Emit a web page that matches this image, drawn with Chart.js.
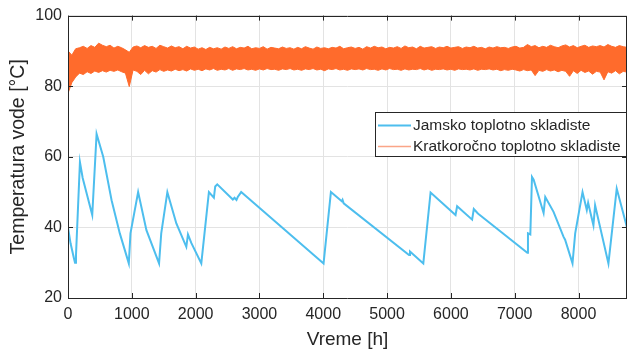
<!DOCTYPE html>
<html>
<head>
<meta charset="utf-8">
<script src="https://cdn.jsdelivr.net/npm/chart.js@4/dist/chart.umd.min.js"></script>
<style>
  html, body { margin: 0; padding: 0; background: #fff; }
  #wrap { width: 627px; height: 352px; position: relative; }
</style>
</head>
<body>
<div id="wrap"><canvas id="temperature"></canvas></div>
<script>
// Jamsko toplotno skladiste (sat, temperatura)
const jamskoSati = [0, 40, 90, 110, 125, 187, 230, 380, 448, 552, 683, 812, 953, 979, 1099, 1229, 1427, 1461, 1557, 1698, 1854, 1880, 1932, 2089, 2208, 2286, 2307, 2339, 2583, 2610, 2640, 2660, 2714, 4005, 4120, 4290, 4302, 4320, 5344, 5359, 5568, 5682, 6073, 6098, 6333, 6359, 6420, 6438, 7198, 7208, 7245, 7271, 7297, 7453, 7479, 7609, 7766, 7790, 7906, 7948, 8063, 8130, 8151, 8188, 8234, 8260, 8469, 8599, 8760];
const jamskoTemp = [40, 35.5, 31.5, 30, 32, 58.5, 54, 43.5, 66.5, 60, 47.7, 38.3, 29.8, 38.3, 50, 39.2, 29.8, 38.3, 50, 41.1, 34.5, 38, 35.6, 29.8, 50, 48.4, 51.6, 52.2, 47.9, 48.4, 47.8, 48.6, 50, 29.8, 50, 47.4, 47.8, 46.8, 32.2, 33.2, 29.8, 49.9, 43.5, 46, 42.2, 45.2, 44, 43.7, 32.8, 38.3, 38, 54.3, 53.5, 44.1, 48.6, 44.4, 37.3, 36.5, 29.8, 38.3, 50, 44.9, 47, 44.1, 40.6, 46.3, 29.8, 51, 40];

// Kratkorocno skladiste: gornja i donja granica signala, na svakih 60 h
const kratkoKorak = 60;
const kratkoGore = [
  90.0, 88.8, 90.6, 90.9, 91.3, 90.7, 91.5, 91.0, 92.2, 91.6,
  91.2, 91.6, 90.8, 91.3, 90.9, 90.3, 89.6, 91.1, 91.4, 90.9,
  91.5, 91.0, 91.3, 90.7, 91.6, 91.2, 90.8, 91.4, 90.9, 91.2,
  90.6, 91.3, 90.8, 91.1, 90.5, 90.9, 90.4, 91.0, 90.6, 90.9,
  90.5, 91.1, 90.7, 91.2, 90.6, 91.0, 90.8, 91.3, 90.6, 90.9,
  90.7, 91.2, 90.5, 91.0, 90.8, 90.6, 91.1, 90.7, 90.9, 90.5,
  91.0, 90.6, 91.2, 90.8, 90.5, 91.1, 90.7, 90.9, 90.6, 91.0,
  90.8, 91.3, 90.6, 90.9, 91.1, 90.7, 91.0, 90.5, 91.2, 90.8,
  91.3, 90.9, 91.1, 90.6, 91.0, 90.8, 91.2, 90.7, 91.4, 90.9,
  91.1, 90.6, 91.3, 90.8, 91.0, 91.2, 90.7, 91.1, 90.9, 91.3,
  90.8, 91.0, 91.2, 90.7, 91.1, 90.9, 91.3, 90.8, 91.0, 90.6,
  91.1, 90.8, 91.2, 90.9, 91.0, 90.7, 91.1, 91.3, 90.8, 91.0,
  91.8, 91.2, 91.5, 90.9, 91.3, 91.0, 91.6, 91.2, 90.9, 91.4,
  91.7, 91.1, 91.5, 90.9, 91.3, 91.6, 91.0, 91.4, 91.2, 91.5,
  91.1, 91.8, 91.3, 91.0, 91.5, 91.2, 91.0
];
const kratkoDole = [
  78.0, 81.0, 82.6, 83.7, 83.3, 84.1, 83.6, 84.3, 83.9, 84.4,
  84.0, 84.5, 84.2, 84.6, 84.1, 83.7, 79.9, 84.6, 84.2, 83.3,
  84.5, 83.5, 84.4, 84.0, 84.7, 84.2, 84.6, 84.3, 84.8, 84.4,
  84.7, 84.3, 84.9, 84.5, 84.8, 84.4, 84.9, 84.6, 85.0, 84.5,
  84.8, 84.6, 85.0, 84.5, 84.9, 84.7, 85.0, 84.6, 84.8, 84.5,
  84.9, 84.6, 85.0, 84.7, 84.8, 84.5, 84.9, 84.7, 85.0, 84.6,
  84.8, 84.5, 84.9, 84.7, 85.0, 84.6, 84.8, 84.4, 84.9, 84.7,
  85.0, 84.6, 84.8, 84.5, 84.9, 84.7, 84.9, 84.6, 85.0, 84.7,
  84.8, 84.5, 84.9, 84.6, 85.0, 84.7, 84.8, 84.5, 84.9, 84.6,
  84.8, 84.7, 85.0, 84.6, 84.9, 84.5, 84.8, 84.7, 84.9, 84.6,
  84.8, 84.5, 84.9, 84.7, 84.8, 84.6, 84.9, 84.5, 84.8, 84.7,
  84.9, 84.6, 84.8, 84.4, 84.7, 84.5, 84.8, 84.6, 84.3, 84.7,
  84.4, 84.6, 83.0, 84.5, 84.2, 84.7, 84.3, 84.6, 84.1, 84.5,
  84.2, 82.8, 84.4, 83.6, 84.5, 83.9, 84.3, 83.4, 84.2, 84.0,
  81.8, 84.1, 83.7, 84.4, 83.5, 84.2, 84.0
];

const xTicks = [0, 1000, 2000, 3000, 4000, 5000, 6000, 7000, 8000];
const yTicks = [20, 40, 60, 80, 100];
const legendNames = ["Jamsko toplotno skladiste", "Kratkoročno toplotno skladiste"];

const plava = "rgb(77, 190, 238)";
const narandzasta = "rgb(255, 107, 44)";
const tamna = "#262626";
const font = "'Liberation Sans', Arial, sans-serif";

function toPoints(xs, ys) {
  return xs.map((x, i) => ({ x: x, y: ys[i] }));
}

const gore = kratkoGore.map((v, i) => ({ x: i * kratkoKorak, y: v }));
const dole = kratkoDole.map((v, i) => ({ x: i * kratkoKorak, y: v }));

// okvir osa i crtice okrenute ka unutra (kao u MATLAB-u)
const okvir = {
  id: "okvir",
  afterDatasetsDraw(chart) {
    const { ctx, chartArea: a, scales } = chart;
    ctx.save();
    ctx.strokeStyle = tamna;
    ctx.lineWidth = 1;
    ctx.beginPath();
    ctx.rect(Math.round(a.left) + 0.5, Math.round(a.top) + 0.5,
      Math.round(a.right - a.left) - 1, Math.round(a.bottom - a.top));
    xTicks.forEach((t) => {
      const px = Math.round(scales.x.getPixelForValue(t)) + 0.5;
      ctx.moveTo(px, a.bottom);
      ctx.lineTo(px, a.bottom - 5);
      ctx.moveTo(px, a.top);
      ctx.lineTo(px, a.top + 5);
    });
    yTicks.forEach((t) => {
      const py = Math.round(scales.y.getPixelForValue(t)) + 0.5;
      ctx.moveTo(a.left, py);
      ctx.lineTo(a.left + 5, py);
      ctx.moveTo(a.right, py);
      ctx.lineTo(a.right - 5, py);
    });
    ctx.stroke();
    ctx.restore();
  },
  afterDraw(chart) {
    const ctx = chart.ctx;
    ctx.save();
    ctx.fillStyle = "#fff";
    ctx.fillRect(375, 112, 252, 45);
    ctx.strokeStyle = tamna;
    ctx.lineWidth = 1;
    ctx.strokeRect(375.5, 112.5, 251, 44);
    const boje = [plava, "rgb(250, 165, 135)"];
    const debljine = [2, 1.5];
    const redovi = [125, 146];
    ctx.font = "15.5px " + font;
    ctx.textBaseline = "middle";
    ctx.textAlign = "left";
    legendNames.forEach((name, i) => {
      ctx.strokeStyle = boje[i];
      ctx.lineWidth = debljine[i];
      ctx.beginPath();
      ctx.moveTo(378, redovi[i] + 0.5);
      ctx.lineTo(411, redovi[i] + 0.5);
      ctx.stroke();
      ctx.fillStyle = tamna;
      ctx.fillText(name, 413, redovi[i] + 1);
    });
    ctx.restore();
  },
};

const ctx = document.getElementById("temperature").getContext("2d");

new Chart(ctx, {
  type: "line",
  data: {
    datasets: [
      {
        label: legendNames[0],
        data: toPoints(jamskoSati, jamskoTemp),
        borderColor: plava,
        borderWidth: 2,
        pointRadius: 0,
        tension: 0,
        fill: false,
      },
      {
        label: legendNames[1],
        data: gore,
        borderColor: narandzasta,
        backgroundColor: narandzasta,
        borderWidth: 1,
        pointRadius: 0,
        tension: 0,
        fill: "+1",
      },
      {
        label: "donja granica",
        data: dole,
        borderColor: narandzasta,
        borderWidth: 1,
        pointRadius: 0,
        tension: 0,
        fill: false,
      },
    ],
  },
  options: {
    responsive: true,
    maintainAspectRatio: false,
    animation: false,
    layout: { padding: { top: 15, right: 0, left: 0, bottom: 0 } },
    plugins: {
      legend: { display: false },
      tooltip: { enabled: false },
    },
    scales: {
      x: {
        type: "linear",
        min: 0,
        max: 8760,
        afterBuildTicks: (axis) => {
          axis.ticks = xTicks.map((v) => ({ value: v }));
        },
        afterFit: (scale) => {
          scale.height = 54;
        },
        border: { display: false },
        grid: { color: "#e3e3e3", drawTicks: false },
        ticks: {
          padding: 7,
          color: tamna,
          maxRotation: 0,
          callback: (v) => String(v),
          font: { size: 16, family: font },
        },
        title: {
          display: true,
          text: "Vreme [h]",
          color: tamna,
          padding: { top: 0, bottom: 1 },
          font: { size: 19, family: font },
        },
      },
      y: {
        min: 20,
        max: 100,
        afterBuildTicks: (axis) => {
          axis.ticks = yTicks.map((v) => ({ value: v }));
        },
        afterFit: (scale) => {
          scale.width = 68;
        },
        border: { display: false },
        grid: { color: "#e3e3e3", drawTicks: false },
        ticks: {
          padding: 6,
          color: tamna,
          callback: (v) => String(v),
          font: { size: 16, family: font },
        },
        title: {
          display: true,
          text: "Temperatura vode [°C]",
          color: tamna,
          padding: { top: 7, bottom: 0 },
          font: { size: 19.5, family: font },
        },
      },
    },
  },
  plugins: [okvir],
});
</script>
</body>
</html>
